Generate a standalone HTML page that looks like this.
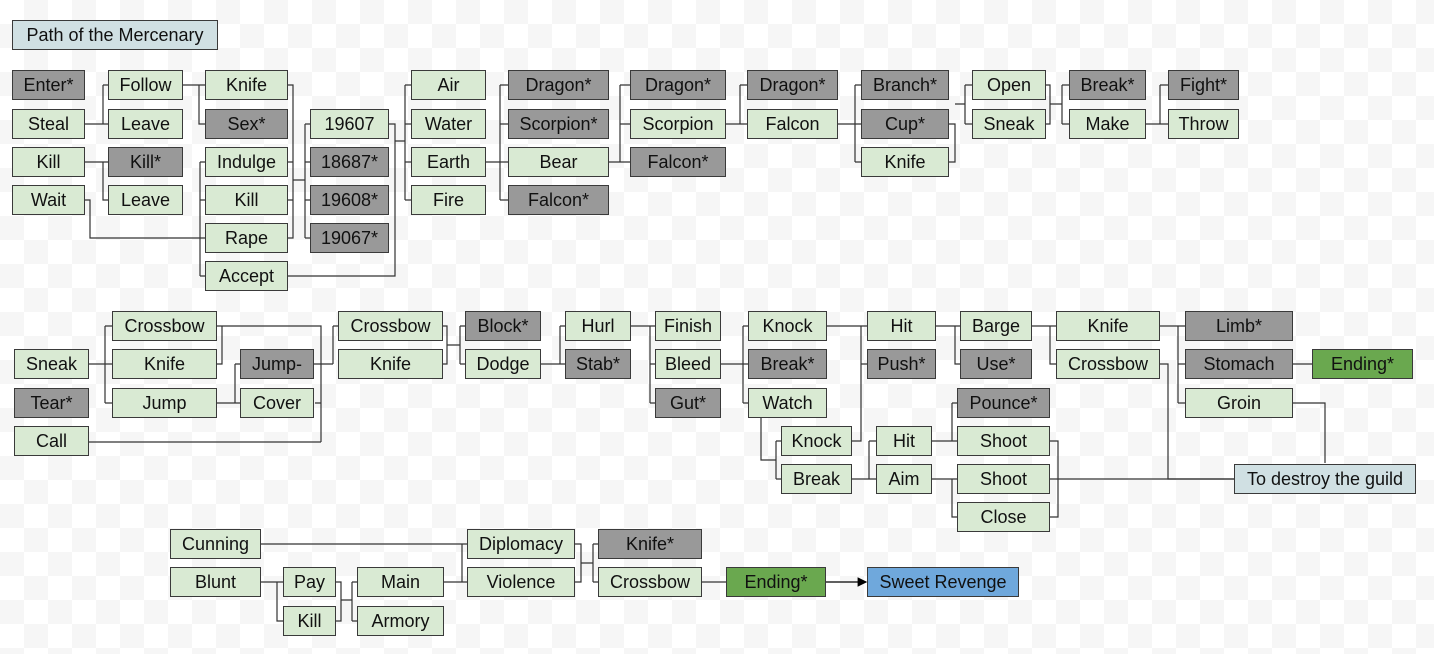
<!DOCTYPE html>
<html><head><meta charset="utf-8"><style>
body{margin:0;width:1434px;height:654px;position:relative;overflow:hidden;font-family:"Liberation Sans",sans-serif;
background-color:#fff;background-image:linear-gradient(45deg,#f6f6f6 25%,transparent 25%,transparent 75%,#f6f6f6 75%),linear-gradient(45deg,#f6f6f6 25%,transparent 25%,transparent 75%,#f6f6f6 75%);background-size:48px 48px;background-position:0 0,24px 24px}
.b{position:absolute;height:30px;box-sizing:border-box;border:1px solid #3a3a3a;background:#d9ead3;font-size:18px;line-height:28px;text-align:center;color:#111;white-space:nowrap}
.g{background:#999}
.e{background:#6aa84f}
.t{background:#d0e0e3}
.r{background:#6fa8dc}
svg{position:absolute;left:0;top:0}
</style></head><body>
<svg width="1434" height="654" fill="none" stroke="#333" stroke-width="1.2">
<defs><marker id="a" markerWidth="8" markerHeight="8" refX="7" refY="4" orient="auto"><path d="M0,0 L8,4 L0,8z" fill="#000" stroke="none"/></marker></defs>
<!-- top -->
<path d="M85,124H103M103,85V124M103,85H108M103,124H108"/>
<path d="M85,162H108M103,162V200H108"/>
<path d="M183,85H205M199,85V124H205"/>
<path d="M85,200H90V238H205M200,162V276M200,162H205M200,200H205M200,276H205"/>
<path d="M288,85H293V238H288M288,162H293M288,200H293M293,180H305M305,124V238M305,124H310M305,162H310M305,200H310M305,238H310"/>
<path d="M389,124H395V276H288M395,141H405M405,85V200M405,85H411M405,124H411M405,162H411M405,200H411"/>
<path d="M486,162H508M500,85V200M500,85H508M500,124H508M500,200H508"/>
<path d="M609,162H620M620,85V162M620,85H630M620,124H630M620,162H630"/>
<path d="M726,124H747M740,85V124H747M740,85H747"/>
<path d="M838,124H861M855,85V162M855,85H861M855,162H861"/>
<path d="M949,124H955V162H949M955,104H965M965,85V124M965,85H972M965,124H972"/>
<path d="M1046,85H1050V124H1046M1050,104H1062M1062,85V124M1062,85H1069M1062,124H1069"/>
<path d="M1146,124H1168M1160,85V124M1160,85H1168"/>
<!-- middle -->
<path d="M89,364H112M105,326V403M105,326H112M105,403H112"/>
<path d="M217,326H222V364H217M217,326H321V442M315,403H321M89,442H321"/>
<path d="M217,403H240M235,364V403M235,364H240"/>
<path d="M314,364H333M333,326V364M333,326H338"/>
<path d="M443,326H447V364H443M447,345H460M460,326V364M460,326H465M460,364H465"/>
<path d="M541,364H565M560,326V364M560,326H565"/>
<path d="M631,326H655M650,326V403M650,364H655M650,403H655"/>
<path d="M721,364H748M743,326V403M743,326H748M743,403H748"/>
<path d="M761,418V460H776M776,441V479M776,441H781M776,479H781"/>
<path d="M827,326H867M861,326V441H852M861,364H867"/>
<path d="M936,326H960M955,326V364H960"/>
<path d="M1032,326H1056M1050,326V364H1056"/>
<path d="M1160,326H1185M1178,326V403M1178,364H1185M1178,403H1185"/>
<path d="M1293,364H1312"/>
<path d="M1160,364H1168V479H1234"/>
<path d="M1293,403H1325V463"/>
<path d="M852,479H876M869,441V479M869,441H876"/>
<path d="M932,441H957M952,403V441M952,403H957"/>
<path d="M932,479H957M952,479V517H957"/>
<path d="M1050,441H1058V517H1050M1050,479H1234"/>
<!-- bottom -->
<path d="M261,582H283M277,582V621H283"/>
<path d="M336,582H341V621H336M341,600H352M352,582V621M352,582H357M352,621H357"/>
<path d="M261,544H467M462,544V582M444,582H467"/>
<path d="M575,544H581V582H575M581,563H593M593,544V582M593,544H598M593,582H598"/>
<path d="M702,582H726"/>
<path d="M826,582H866" stroke="#000" marker-end="url(#a)"/>
</svg>
<div class="b t" style="left:12px;top:20px;width:206px">Path of the Mercenary</div>
<div class="b g" style="left:12px;top:70px;width:73px">Enter*</div>
<div class="b" style="left:12px;top:109px;width:73px">Steal</div>
<div class="b" style="left:12px;top:147px;width:73px">Kill</div>
<div class="b" style="left:12px;top:185px;width:73px">Wait</div>
<div class="b" style="left:108px;top:70px;width:75px">Follow</div>
<div class="b" style="left:108px;top:109px;width:75px">Leave</div>
<div class="b g" style="left:108px;top:147px;width:75px">Kill*</div>
<div class="b" style="left:108px;top:185px;width:75px">Leave</div>
<div class="b" style="left:205px;top:70px;width:83px">Knife</div>
<div class="b g" style="left:205px;top:109px;width:83px">Sex*</div>
<div class="b" style="left:205px;top:147px;width:83px">Indulge</div>
<div class="b" style="left:205px;top:185px;width:83px">Kill</div>
<div class="b" style="left:205px;top:223px;width:83px">Rape</div>
<div class="b" style="left:205px;top:261px;width:83px">Accept</div>
<div class="b" style="left:310px;top:109px;width:79px">19607</div>
<div class="b g" style="left:310px;top:147px;width:79px">18687*</div>
<div class="b g" style="left:310px;top:185px;width:79px">19608*</div>
<div class="b g" style="left:310px;top:223px;width:79px">19067*</div>
<div class="b" style="left:411px;top:70px;width:75px">Air</div>
<div class="b" style="left:411px;top:109px;width:75px">Water</div>
<div class="b" style="left:411px;top:147px;width:75px">Earth</div>
<div class="b" style="left:411px;top:185px;width:75px">Fire</div>
<div class="b g" style="left:508px;top:70px;width:101px">Dragon*</div>
<div class="b g" style="left:508px;top:109px;width:101px">Scorpion*</div>
<div class="b" style="left:508px;top:147px;width:101px">Bear</div>
<div class="b g" style="left:508px;top:185px;width:101px">Falcon*</div>
<div class="b g" style="left:630px;top:70px;width:96px">Dragon*</div>
<div class="b" style="left:630px;top:109px;width:96px">Scorpion</div>
<div class="b g" style="left:630px;top:147px;width:96px">Falcon*</div>
<div class="b g" style="left:747px;top:70px;width:91px">Dragon*</div>
<div class="b" style="left:747px;top:109px;width:91px">Falcon</div>
<div class="b g" style="left:861px;top:70px;width:88px">Branch*</div>
<div class="b g" style="left:861px;top:109px;width:88px">Cup*</div>
<div class="b" style="left:861px;top:147px;width:88px">Knife</div>
<div class="b" style="left:972px;top:70px;width:74px">Open</div>
<div class="b" style="left:972px;top:109px;width:74px">Sneak</div>
<div class="b g" style="left:1069px;top:70px;width:77px">Break*</div>
<div class="b" style="left:1069px;top:109px;width:77px">Make</div>
<div class="b g" style="left:1168px;top:70px;width:71px">Fight*</div>
<div class="b" style="left:1168px;top:109px;width:71px">Throw</div>

<div class="b" style="left:14px;top:349px;width:75px">Sneak</div>
<div class="b g" style="left:14px;top:388px;width:75px">Tear*</div>
<div class="b" style="left:14px;top:426px;width:75px">Call</div>
<div class="b" style="left:112px;top:311px;width:105px">Crossbow</div>
<div class="b" style="left:112px;top:349px;width:105px">Knife</div>
<div class="b" style="left:112px;top:388px;width:105px">Jump</div>
<div class="b g" style="left:240px;top:349px;width:74px">Jump-</div>
<div class="b" style="left:240px;top:388px;width:74px">Cover</div>
<div class="b" style="left:338px;top:311px;width:105px">Crossbow</div>
<div class="b" style="left:338px;top:349px;width:105px">Knife</div>
<div class="b g" style="left:465px;top:311px;width:76px">Block*</div>
<div class="b" style="left:465px;top:349px;width:76px">Dodge</div>
<div class="b" style="left:565px;top:311px;width:66px">Hurl</div>
<div class="b g" style="left:565px;top:349px;width:66px">Stab*</div>
<div class="b" style="left:655px;top:311px;width:66px">Finish</div>
<div class="b" style="left:655px;top:349px;width:66px">Bleed</div>
<div class="b g" style="left:655px;top:388px;width:66px">Gut*</div>
<div class="b" style="left:748px;top:311px;width:79px">Knock</div>
<div class="b g" style="left:748px;top:349px;width:79px">Break*</div>
<div class="b" style="left:748px;top:388px;width:79px">Watch</div>
<div class="b" style="left:781px;top:426px;width:71px">Knock</div>
<div class="b" style="left:781px;top:464px;width:71px">Break</div>
<div class="b" style="left:867px;top:311px;width:69px">Hit</div>
<div class="b g" style="left:867px;top:349px;width:69px">Push*</div>
<div class="b" style="left:876px;top:426px;width:56px">Hit</div>
<div class="b" style="left:876px;top:464px;width:56px">Aim</div>
<div class="b" style="left:960px;top:311px;width:72px">Barge</div>
<div class="b g" style="left:960px;top:349px;width:72px">Use*</div>
<div class="b g" style="left:957px;top:388px;width:93px">Pounce*</div>
<div class="b" style="left:957px;top:426px;width:93px">Shoot</div>
<div class="b" style="left:957px;top:464px;width:93px">Shoot</div>
<div class="b" style="left:957px;top:502px;width:93px">Close</div>
<div class="b" style="left:1056px;top:311px;width:104px">Knife</div>
<div class="b" style="left:1056px;top:349px;width:104px">Crossbow</div>
<div class="b g" style="left:1185px;top:311px;width:108px">Limb*</div>
<div class="b g" style="left:1185px;top:349px;width:108px">Stomach</div>
<div class="b" style="left:1185px;top:388px;width:108px">Groin</div>
<div class="b e" style="left:1312px;top:349px;width:101px">Ending*</div>
<div class="b t" style="left:1234px;top:464px;width:182px">To destroy the guild</div>

<div class="b" style="left:170px;top:529px;width:91px">Cunning</div>
<div class="b" style="left:170px;top:567px;width:91px">Blunt</div>
<div class="b" style="left:283px;top:567px;width:53px">Pay</div>
<div class="b" style="left:283px;top:606px;width:53px">Kill</div>
<div class="b" style="left:357px;top:567px;width:87px">Main</div>
<div class="b" style="left:357px;top:606px;width:87px">Armory</div>
<div class="b" style="left:467px;top:529px;width:108px">Diplomacy</div>
<div class="b" style="left:467px;top:567px;width:108px">Violence</div>
<div class="b g" style="left:598px;top:529px;width:104px">Knife*</div>
<div class="b" style="left:598px;top:567px;width:104px">Crossbow</div>
<div class="b e" style="left:726px;top:567px;width:100px">Ending*</div>
<div class="b r" style="left:867px;top:567px;width:152px">Sweet Revenge</div>
</body></html>
